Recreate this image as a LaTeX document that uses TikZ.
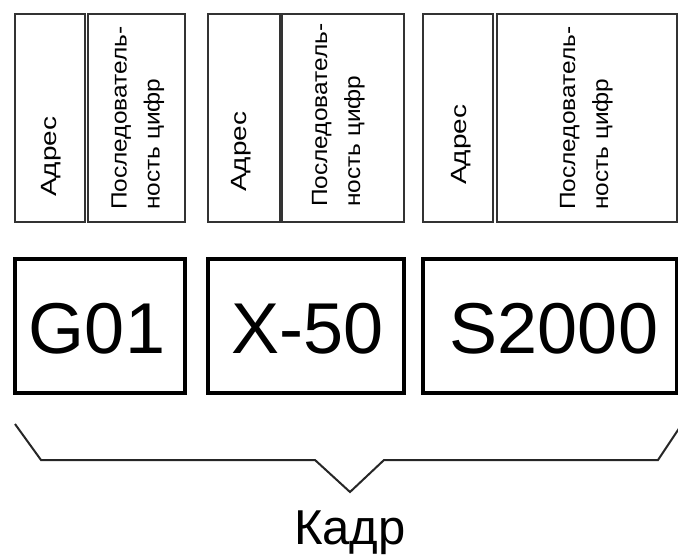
\documentclass[tikz,border=0pt]{standalone}
\usepackage{fontspec}
\setmainfont{Liberation Sans}
\usepackage{graphicx}
\begin{document}
\begin{tikzpicture}[x=1pt,y=-1pt,
  topbox/.style={draw=black!80, line width=1.5pt, inner sep=0pt, minimum height=208pt},
  botbox/.style={draw=black, line width=3.5pt, inner sep=0pt, minimum height=134pt},
  adrtxt/.style={rotate=90, anchor=west, inner sep=0pt, font=\fontsize{22}{33}\selectfont},
  seqtxt/.style={rotate=90, anchor=west, inner sep=0pt, font=\fontsize{22}{33}\selectfont},
  bigtxt/.style={inner sep=0pt, font=\fontsize{72}{80}\selectfont},
  kadrtxt/.style={inner sep=0pt, anchor=base, font=\fontsize{49}{56}\selectfont},
  bracel/.style={draw=black!85, line width=2pt, line join=miter}]
\useasboundingbox (0,0) rectangle (678,555);
\newcommand{\adr}{\scalebox{1.27}[1]{Адрес}}
\newcommand{\seqt}{\scalebox{1.11}[1]{\begin{tabular}{@{}l@{}}Последователь-\\ность цифр\end{tabular}}}
% top boxes
\node[topbox, minimum width=70pt]  (a1) at (50,118) {};
\node[topbox, minimum width=97pt]  (d1) at (136.5,118) {};
\node[topbox, minimum width=72pt]  (a2) at (244,118) {};
\node[topbox, minimum width=122pt] (d2) at (343,118) {};
\node[topbox, minimum width=70pt]  (a3) at (458,118) {};
\node[topbox, minimum width=180pt] (d3) at (587,118) {};
% top texts
\node[adrtxt] (ta1) at (51,197) {\adr};
\node[adrtxt] (ta2) at (241,192) {\adr};
\node[adrtxt] (ta3) at (461,185) {\adr};
\node[seqtxt] (ts1) at (136.5,210) {\seqt};
\node[seqtxt] (ts2) at (337,207) {\seqt};
\node[seqtxt] (ts3) at (585,210) {\seqt};
% bottom boxes
\node[botbox, minimum width=170pt] (b1) at (100,326) {};
\node[botbox, minimum width=196pt] (b2) at (306,326) {};
\node[botbox, minimum width=254pt] (b3) at (550,326) {};
\node[bigtxt] (g) at (97,329) {G01};
\node[bigtxt] (x) at (308,329) {X-50};
\node[bigtxt] (s) at (554,329) {S2000};
% brace
\coordinate (br0) at (15,424);
\coordinate (br1) at (41,460);
\coordinate (br2) at (315,460);
\coordinate (brt) at (350,492);
\coordinate (br3) at (384,460);
\coordinate (br4) at (658,460);
\coordinate (br5) at (680,427);
\draw[bracel] (br0) -- (br1) -- (br2) -- (brt) -- (br3) -- (br4) -- (br5);
\node[kadrtxt] (k) at (350,544) {Кадр};
\end{tikzpicture}
\end{document}
